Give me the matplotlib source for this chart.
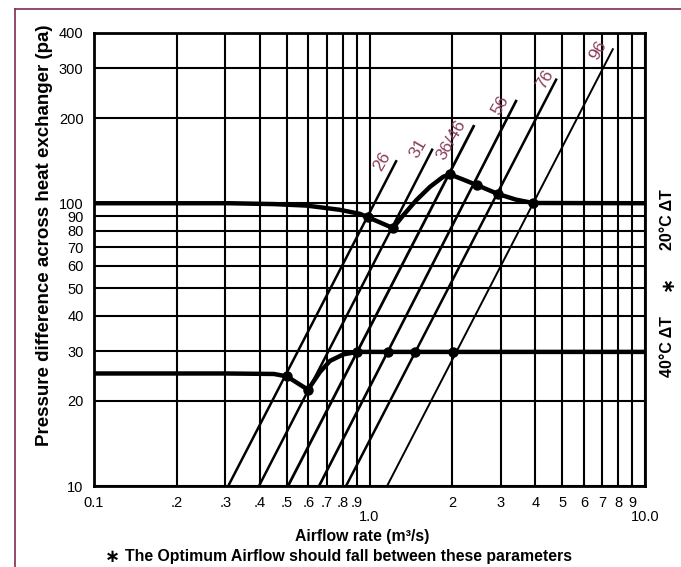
import numpy as np
import matplotlib
matplotlib.use("Agg")
import matplotlib.pyplot as plt
from matplotlib.lines import Line2D
from matplotlib.ticker import NullLocator, NullFormatter

plt.rcParams['font.family'] = ['Liberation Sans', 'DejaVu Sans']

############### DATA ###############

# sloped lines: start on the 10 pa axis, end at the top point
line_names = ["26", "31", "36/46", "56", "76", "96"]
line_x_start = [0.307, 0.397, 0.506, 0.656, 0.822, 1.158]
line_x_end = [1.255, 1.696, 2.40, 3.42, 4.78, 7.67]
line_y_end = [142, 156, 189, 232, 276, 353]

# 20 C delta T curve
dt20_x = [0.1, 0.2, 0.31, 0.45, 0.592, 0.78, 0.924, 0.988, 1.217, 1.33, 1.48, 1.66, 1.85, 1.96,
          2.2, 2.455, 2.93, 3.4, 3.92, 10.0]
dt20_y = [100, 100, 100, 99.3, 98.1, 94.8, 91.7, 89.2, 81.7, 91, 102.6, 114.4, 124, 126.5,
          121, 115.9, 107.8, 103, 100.2, 100]
dt20_mark_x = [0.988, 1.217, 1.96, 2.455, 2.93, 3.92]
dt20_mark_y = [89.2, 81.7, 126.5, 115.9, 107.8, 100.2]

# 40 C delta T curve
dt40_x = [0.1, 0.3, 0.45, 0.502, 0.598, 0.661, 0.719, 0.803, 0.901, 1.167, 1.463, 2.01, 10.0]
dt40_y = [25, 25, 24.9, 24.4, 21.9, 25.3, 27.7, 29.2, 29.8, 29.8, 29.8, 29.8, 29.8]
dt40_mark_x = [0.502, 0.598, 0.901, 1.167, 1.463, 2.01]
dt40_mark_y = [24.4, 21.9, 29.8, 29.8, 29.8, 29.8]

x_ticks = [0.1, 0.2, 0.3, 0.4, 0.5, 0.6, 0.7, 0.8, 0.9, 1, 2, 3, 4, 5, 6, 7, 8, 9, 10]
x_tick_labels = ["0.1", ".2", ".3", ".4", ".5", ".6", ".7", ".8", ".9", "1.0",
                 "2", "3", "4", "5", "6", "7", "8", "9", "10.0"]
y_ticks = [10, 20, 30, 40, 50, 60, 70, 80, 90, 100, 200, 300, 400]
y_tick_labels = [str(v) for v in y_ticks]

########################################

label_color = "#8a3d5c"
frame_color = "#7d2e55"
# label offsets from the top of each line (points)
label_offsets = [(-10.8, -1.2), (-10.4, 0), (-16.3, -10.8), (-12, -3.6), (-8.4, -0.5), (-10.8, -1.2)]
line_widths = [1.8, 1.8, 2.0, 1.9, 1.8, 1.4]

fig = plt.figure(figsize=(6.81, 5.67), dpi=100)
ax = fig.add_axes([94 / 681, 81 / 567, 551 / 681, 453 / 567])
ax.set_xscale("log")
ax.set_yscale("log")
ax.set_xlim(0.1, 10)
ax.set_ylim(10, 400)

ax.set_xticks(x_ticks)
ax.set_xticklabels(x_tick_labels)
ax.set_yticks(y_ticks)
ax.set_yticklabels(y_tick_labels)
ax.xaxis.set_minor_locator(NullLocator())
ax.yaxis.set_minor_locator(NullLocator())
ax.xaxis.set_minor_formatter(NullFormatter())
ax.yaxis.set_minor_formatter(NullFormatter())
ax.tick_params(axis="both", length=0, labelsize=10.5)
ax.tick_params(axis="x", pad=7)
ax.tick_params(axis="y", pad=7.5)
# 1.0 and 10.0 sit one row lower
xt = ax.xaxis.get_major_ticks()
xt[9].set_pad(17.5)
xt[18].set_pad(17.5)
ax.grid(True, which="major", color="black", linewidth=1.5)
for s in ax.spines.values():
    s.set_linewidth(2)

for i in range(len(line_names)):
    ax.plot([line_x_start[i], line_x_end[i]], [10, line_y_end[i]], color="black",
            lw=line_widths[i], solid_capstyle="butt", zorder=3)
    ax.annotate(line_names[i], (line_x_end[i], line_y_end[i]), xytext=label_offsets[i],
                textcoords="offset points", ha="center", va="center", rotation=60,
                rotation_mode="anchor", color=label_color, fontsize=12.5, zorder=5)

ax.plot(dt20_x, dt20_y, color="black", lw=3.2, zorder=4, solid_joinstyle="round")
ax.plot(dt20_mark_x, dt20_mark_y, "o", color="black", ms=6.5, zorder=4)
ax.plot(dt40_x, dt40_y, color="black", lw=3.2, zorder=4, solid_joinstyle="round")
ax.plot(dt40_mark_x, dt40_mark_y, "o", color="black", ms=6.5, zorder=4)

fig.text(45 / 681, 1 - 235 / 567, "Pressure difference across heat exchanger (pa)",
         rotation=90, ha="center", va="center", fontsize=13.5, fontweight="bold")
fig.text(362 / 681, 1 - 536 / 567, "Airflow rate (m\u00b3/s)", ha="center", va="center",
         fontsize=11.3, fontweight="bold")
fig.text(112 / 681, 1 - 557 / 567, "\u2217", ha="center", va="center", fontsize=13,
         fontweight="bold", family=["DejaVu Sans"])
fig.text(125 / 681, 1 - 557 / 567, "The Optimum Airflow should fall between these parameters",
         ha="left", va="center", fontsize=11.4, fontweight="bold")

fig.text(668 / 681, 1 - 220 / 567, "20\u00b0C \u0394T", rotation=90, ha="center", va="center",
         fontsize=11.5, fontweight="bold")
fig.text(668 / 681, 1 - 283 / 567, "\u2217", rotation=90, ha="center", va="center",
         fontsize=13, fontweight="bold", family=["DejaVu Sans"])
fig.text(668 / 681, 1 - 347 / 567, "40\u00b0C \u0394T", rotation=90, ha="center", va="center",
         fontsize=11.5, fontweight="bold")

# maroon frame (top and left edge)
fx = 15 / 681
fy = 1 - 8.5 / 567
fig.add_artist(Line2D([fx, 1], [fy, fy], transform=fig.transFigure, color=frame_color, lw=1.2))
fig.add_artist(Line2D([fx, fx], [0, fy], transform=fig.transFigure, color=frame_color, lw=1.2))

plt.savefig("out.png", dpi=100)
